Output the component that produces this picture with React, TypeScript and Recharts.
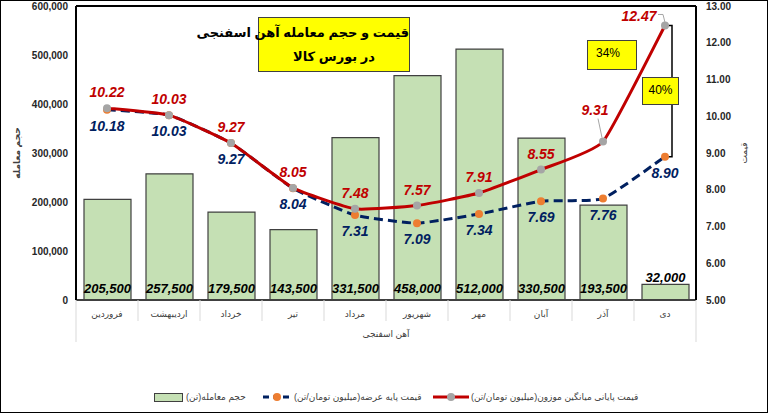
import React from 'react';
import {
  ComposedChart,
  Bar,
  Line,
  XAxis,
  YAxis,
  LabelList,
  ReferenceLine,
} from 'recharts';

const months = ['فروردین', 'اردیبهشت', 'خرداد', 'تیر', 'مرداد', 'شهریور', 'مهر', 'آبان', 'آذر', 'دی'];
const volume = [205500, 257500, 179500, 143500, 331500, 458000, 512000, 330500, 193500, 32000];
const basePrice = [10.18, 10.03, 9.27, 8.04, 7.31, 7.09, 7.34, 7.69, 7.76, 8.9];
const finalPrice = [10.22, 10.03, 9.27, 8.05, 7.48, 7.57, 7.91, 8.55, 9.31, 12.47];
const volumeTicks = [0, 100000, 200000, 300000, 400000, 500000, 600000];
const priceTicks = [5, 6, 7, 8, 9, 10, 11, 12, 13];

const data = months.map((m, i) => ({
  month: m,
  volume: volume[i],
  base: basePrice[i],
  final: finalPrice[i],
}));

const last = months.length - 1;
const growthFromPrev = Math.round(((finalPrice[last] - finalPrice[last - 1]) / finalPrice[last - 1]) * 100);
const growthOverBase = Math.round(((finalPrice[last] - basePrice[last]) / basePrice[last]) * 100);

const FONT = 'Arial, "Liberation Sans", "DejaVu Sans", sans-serif';
const RED = '#C00000';
const NAVY = '#002060';

// gently smoothed line through the points (low tension bezier)
const TENSION = 1 / 14;
const smoothCurve = (context: any) => {
  let pts: number[][] = [];
  return {
    areaStart() {},
    areaEnd() {},
    lineStart() {
      pts = [];
    },
    point(x: number, y: number) {
      pts.push([+x, +y]);
    },
    lineEnd() {
      const n = pts.length;
      if (!n) return;
      context.moveTo(pts[0][0], pts[0][1]);
      for (let i = 0; i < n - 1; i++) {
        const p0 = pts[Math.max(i - 1, 0)];
        const p1 = pts[i];
        const p2 = pts[i + 1];
        const p3 = pts[Math.min(i + 2, n - 1)];
        context.bezierCurveTo(
          p1[0] + (p2[0] - p0[0]) * TENSION,
          p1[1] + (p2[1] - p0[1]) * TENSION,
          p2[0] - (p3[0] - p1[0]) * TENSION,
          p2[1] - (p3[1] - p1[1]) * TENSION,
          p2[0],
          p2[1],
        );
      }
    },
  };
};

const MonthTick = (props: any) => {
  const { x, y, payload, index } = props;
  const half = payload && payload.offset > 5 ? payload.offset : 31;
  const isFirst = index === 0;
  const isLast = index === months.length - 1;
  return (
    <g>
      <line x1={x - half} y1={y} x2={x - half} y2={y + (isFirst ? 42 : 21)} stroke="#D9D9D9" />
      {isLast && <line x1={x + half} y1={y} x2={x + half} y2={y + 42} stroke="#D9D9D9" />}
      <text x={x} y={y + 14} textAnchor="middle" dominantBaseline="central" fontSize={9} fill="#404040" direction="rtl">
        {payload.value}
      </text>
    </g>
  );
};

const XTitle = (props: any) => {
  const vb = props.viewBox || {};
  return (
    <text x={vb.x + vb.width / 2} y={vb.y + 34} textAnchor="middle" dominantBaseline="central" fontSize={9} fill="#404040">
      آهن اسفنجی
    </text>
  );
};

const LeftTitle = (props: any) => {
  const vb = props.viewBox || {};
  const cx = 17;
  const cy = vb.y + vb.height / 2;
  return (
    <text x={cx} y={cy} transform={`rotate(-90 ${cx} ${cy})`} textAnchor="middle" dominantBaseline="central" fontSize={9} fontWeight="bold" fill="#404040">
      حجم معامله
    </text>
  );
};

const RightTitle = (props: any) => {
  const vb = props.viewBox || {};
  const cx = 744;
  const cy = vb.y + vb.height / 2;
  return (
    <text x={cx} y={cy} transform={`rotate(-90 ${cx} ${cy})`} textAnchor="middle" dominantBaseline="central" fontSize={9} fill="#404040">
      قیمت
    </text>
  );
};

const VolumeLabel = (props: any) => {
  const vb = props.viewBox || {};
  const x = props.x ?? vb.x;
  const y = props.y ?? vb.y;
  const w = props.width ?? vb.width;
  const h = props.height ?? vb.height;
  const cy = h < 25 ? y - 7 : y + h - 12;
  return (
    <text x={x + w / 2} y={cy} textAnchor="middle" dominantBaseline="central" fontSize={13} fontWeight="bold" fontStyle="italic" fill="#000">
      {Number(props.value).toLocaleString('en-US')}
    </text>
  );
};

const FinalLabel = (props: any) => {
  const vb = props.viewBox || {};
  const x = props.x ?? vb.x;
  const y = props.y ?? vb.y;
  const { index, value } = props;
  let dx = 0;
  let dy = -16;
  let leader: React.ReactNode = null;
  if (index === 8) {
    dx = -8;
    dy = -32;
    leader = <line x1={x + dx + 3} y1={y + dy + 9} x2={x - 1} y2={y - 4} stroke="#A6A6A6" />;
  }
  if (index === 9) {
    dx = -26;
    dy = -9;
    leader = <polyline points={`${x - 7},${y - 11} ${x - 2},${y - 11} ${x},${y - 3}`} fill="none" stroke="#A6A6A6" />;
  }
  return (
    <g>
      {leader}
      <text x={x + dx} y={y + dy} textAnchor="middle" dominantBaseline="central" fontSize={14} fontWeight="bold" fontStyle="italic" fill={RED}>
        {Number(value).toFixed(2)}
      </text>
    </g>
  );
};

const BaseLabel = (props: any) => {
  const vb = props.viewBox || {};
  const x = props.x ?? vb.x;
  const y = props.y ?? vb.y;
  return (
    <text x={x} y={y + 16} textAnchor="middle" dominantBaseline="central" fontSize={14} fontWeight="bold" fontStyle="italic" fill={NAVY}>
      {Number(props.value).toFixed(2)}
    </text>
  );
};

// bracket between the last final price and the last base price
const Bracket = (props: any) => {
  const { x1, y1, y2 } = props;
  const bx = x1 + 7;
  const my = (y1 + y2) / 2;
  return (
    <g>
      <polyline points={`${x1},${y1} ${bx},${y1} ${bx},${y2} ${x1},${y2}`} fill="none" stroke="#000" strokeWidth={1.5} />
      <line x1={bx} y1={my} x2={bx + 7} y2={my} stroke="#000" strokeWidth={1} />
    </g>
  );
};

const legendText: React.CSSProperties = { fontSize: 9, color: '#404040', whiteSpace: 'nowrap' };

export default function App() {
  return (
    <div style={{ position: 'absolute', left: 0, top: 0, width: 768, height: 413, background: '#fff', fontFamily: FONT }}>
      <ComposedChart width={768} height={413} data={data} margin={{ top: 6, right: 0, bottom: 0, left: 0 }}>
        <XAxis
          dataKey="month"
          interval={0}
          height={113}
          tickSize={0}
          tickMargin={0}
          tick={<MonthTick />}
          axisLine={{ stroke: '#404040', strokeWidth: 2 }}
          label={<XTitle />}
        />
        <YAxis
          yAxisId="left"
          width={76}
          domain={[0, 600000]}
          ticks={volumeTicks}
          tickLine={false}
          tickSize={0}
          tickMargin={8}
          tickFormatter={(v: number) => v.toLocaleString('en-US')}
          tick={{ fill: '#262626', fontSize: 10, fontWeight: 'bold' }}
          axisLine={{ stroke: '#000', strokeWidth: 2 }}
          label={<LeftTitle />}
        />
        <YAxis
          yAxisId="right"
          orientation="right"
          width={72}
          domain={[5, 13]}
          ticks={priceTicks}
          tickLine={false}
          tickSize={0}
          tickMargin={10}
          tickFormatter={(v: number) => v.toFixed(2)}
          tick={{ fill: '#262626', fontSize: 10, fontWeight: 'bold', textAnchor: 'start' }}
          axisLine={{ stroke: '#000', strokeWidth: 2 }}
          label={<RightTitle />}
        />
        <ReferenceLine yAxisId="left" y={600000} stroke="#000" strokeWidth={2} />
        <Bar yAxisId="left" dataKey="volume" barSize={47} fill="#C5E0B4" stroke="#404040" strokeWidth={1.2} isAnimationActive={false}>
          <LabelList dataKey="volume" content={<VolumeLabel />} />
        </Bar>
        <Line
          yAxisId="right"
          type={smoothCurve as any}
          dataKey="base"
          stroke={NAVY}
          strokeWidth={3}
          strokeDasharray="9 5"
          dot={{ r: 4, fill: '#ED7D31', stroke: 'none' }}
          isAnimationActive={false}
        >
          <LabelList dataKey="base" content={<BaseLabel />} />
        </Line>
        <Line
          yAxisId="right"
          type={smoothCurve as any}
          dataKey="final"
          stroke={RED}
          strokeWidth={3}
          dot={{ r: 4, fill: '#A5A5A5', stroke: 'none' }}
          isAnimationActive={false}
        >
          <LabelList dataKey="final" content={<FinalLabel />} />
        </Line>
        <ReferenceLine
          yAxisId="right"
          segment={[
            { x: months[last], y: finalPrice[last] },
            { x: months[last], y: basePrice[last] },
          ]}
          shape={Bracket}
          ifOverflow="visible"
        />
      </ComposedChart>

      {/* title box */}
      <div
        style={{
          position: 'absolute', left: 258, top: 17, width: 152, height: 55, boxSizing: 'border-box',
          background: '#FFFF00', border: '1px solid #404040', textAlign: 'center', fontWeight: 'bold',
          fontSize: 13, lineHeight: '24px', paddingTop: 3, color: '#000',
        }}
        dir="rtl"
      >
        <div style={{ whiteSpace: 'nowrap' }}>قیمت و حجم معامله آهن اسفنجی</div>
        <div>در بورس کالا</div>
      </div>

      {/* percentage boxes */}
      <div style={{ position: 'absolute', left: 587, top: 40, width: 50, height: 30, boxSizing: 'border-box', background: '#FFFF00', border: '1px solid #404040', fontSize: 12, paddingLeft: 8, paddingTop: 5, color: '#000' }}>
        {growthFromPrev}%
      </div>
      <div style={{ position: 'absolute', left: 642, top: 77, width: 37, height: 28, boxSizing: 'border-box', background: '#FFFF00', border: '1px solid #404040', fontSize: 12, textAlign: 'center', paddingTop: 5, color: '#000' }}>
        {growthOverBase}%
      </div>

      {/* legend */}
      <div style={{ position: 'absolute', left: 154, top: 390, display: 'flex', alignItems: 'center', height: 14 }}>
        <div style={{ width: 27, height: 7, background: '#C5E0B4', border: '1.5px solid #404040', marginRight: 3 }} />
        <span dir="rtl" style={legendText}>حجم معامله(تن)</span>
      </div>
      <div style={{ position: 'absolute', left: 263, top: 390, display: 'flex', alignItems: 'center', height: 14 }}>
        <svg width={28} height={10} style={{ marginRight: 3 }}>
          <line x1={0} y1={5} x2={28} y2={5} stroke={NAVY} strokeWidth={3} strokeDasharray="6 4" />
          <circle cx={14} cy={5} r={4} fill="#ED7D31" />
        </svg>
        <span dir="rtl" style={legendText}>قیمت  پایه عرضه(میلیون تومان/تن)</span>
      </div>
      <div style={{ position: 'absolute', left: 433, top: 390, display: 'flex', alignItems: 'center', height: 14 }}>
        <svg width={36} height={10} style={{ marginRight: 2 }}>
          <line x1={0} y1={5} x2={36} y2={5} stroke={RED} strokeWidth={3} />
          <circle cx={18} cy={5} r={4} fill="#A5A5A5" />
        </svg>
        <span dir="rtl" style={legendText}>قیمت  پایانی میانگین موزون(میلیون تومان/تن)</span>
      </div>

      {/* outer frame */}
      <div style={{ position: 'absolute', left: 0, top: 0, width: 768, height: 413, boxSizing: 'border-box', border: '1px solid #000', pointerEvents: 'none' }} />
    </div>
  );
}
